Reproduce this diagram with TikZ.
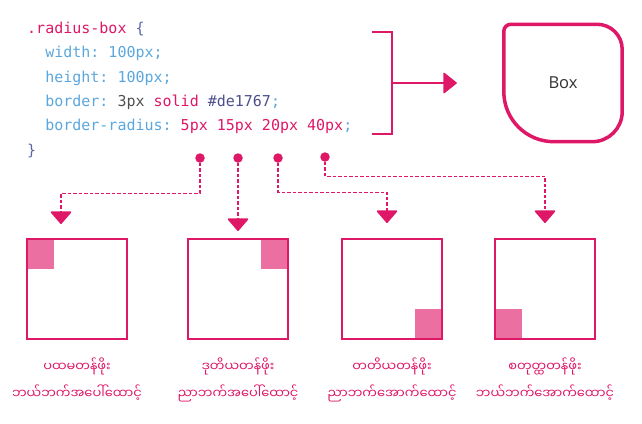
\documentclass[tikz,border=0pt]{standalone}
\usepackage{fontspec}
\setsansfont{Open Sans}
\setmonofont{DejaVu Sans Mono}
\newfontfamily\mmfont[Script=Myanmar]{Noto Sans Myanmar UI}
\usepackage{xcolor}
\usetikzlibrary{arrows.meta,positioning,calc,backgrounds}
\definecolor{rbpink}{HTML}{DE1767}
\definecolor{rbfill}{HTML}{EC6FA1}
\definecolor{cssprop}{HTML}{5AA7DD}
\definecolor{cssbrace}{HTML}{5B68A8}
\definecolor{csshash}{HTML}{4C4F8C}
\definecolor{cssgray}{HTML}{505050}
\tikzset{
  pinkline/.style={draw=rbpink, line width=1.5pt},
  dotline/.style={draw=rbpink, line width=1.6pt, dash pattern=on 3.5pt off 2pt, -{Triangle[width=22pt,length=13pt,round]}},
  code/.style={font=\ttfamily\fontsize{15pt}{24.3pt}\selectfont, align=left, inner sep=0pt},
  rbbox/.style={minimum width=118pt, minimum height=117pt, inner sep=0pt, font=\sffamily\fontsize{16.5pt}{20pt}\selectfont, text=black!80},
  dot/.style={circle, fill=rbpink, inner sep=0pt, minimum size=9.5pt},
  cbox/.style={draw=rbpink, line width=1.5pt, minimum size=100pt, inner sep=0pt, outer sep=0pt},
  lbl/.style={font=\mmfont\fontsize{13pt}{27pt}\selectfont, text=rbpink, align=center, inner sep=0pt}
}

\begin{document}
\begin{tikzpicture}[x=1pt,y=1pt]
  \useasboundingbox (0,0) rectangle (642,-423);
  % css code (base = last line)
  \node[code, anchor=base west] (css) at (27,-155) {%
    \textcolor{rbpink}{.radius-box} \textcolor{cssbrace}{\{}\\
    \phantom{xx}\textcolor{cssprop}{width: 100px;}\\
    \phantom{xx}\textcolor{cssprop}{height: 100px;}\\
    \phantom{xx}\textcolor{cssprop}{border:} \textcolor{cssgray}{3px} \textcolor{rbpink}{solid} \textcolor{csshash}{\#de1767}\textcolor{cssprop}{;}\\
    \phantom{xx}\textcolor{cssprop}{border-radius:} \textcolor{rbpink}{5px 15px 20px 40px}\textcolor{cssprop}{;}\\
    \textcolor{cssbrace}{\}}};

  % bracket and result
  \coordinate (brT) at (372,-32);
  \coordinate (brB) at (372,-134);
  \coordinate (brM) at (392,-83);
  \draw[pinkline] (brT) -| (392,-134) -- (brB);
  \node[rbbox] (bx) at (563,-83) {Box};
  \draw[rbpink, line width=3.5pt] ([xshift=7pt]bx.north west) -- ([xshift=-25pt]bx.north east)
     arc[start angle=90, end angle=0, radius=25pt] -- ([yshift=30pt]bx.south east)
     arc[start angle=0, end angle=-90, radius=30pt] -- ([xshift=50pt]bx.south west)
     arc[start angle=270, end angle=180, radius=50pt] -- ([yshift=-7pt]bx.north west)
     arc[start angle=180, end angle=90, radius=7pt] -- cycle;
  \draw[pinkline, -{Triangle[width=22pt,length=14pt,round]}] (brM) -- ([xshift=-47pt]bx.west);

  % value dots
  \node[dot] (d1) at (200,-158) {};
  \node[dot] (d2) at (238,-158) {};
  \node[dot] (d3) at (278,-158) {};
  \node[dot] (d4) at (325,-157) {};

  % corner boxes
  \node[cbox] (b1) at (77,-289) {};
  \node[cbox] (b2) at (238,-289) {};
  \node[cbox] (b3) at (392,-289) {};
  \node[cbox] (b4) at (545,-289) {};
  \begin{scope}[on background layer]
    \fill[rbfill] (b1.north west) rectangle ++(27,-30); % top left
    \fill[rbfill] (b2.north east) rectangle ++(-27,-30); % top right
    \fill[rbfill] (b3.south east) rectangle ++(-27,30); % bottom right
    \fill[rbfill] (b4.south west) rectangle ++(27,30); % bottom left
  \end{scope}

  % dashed connectors
  \draw[dotline] (d1.south) -- ++(0,-30.5) -| ([xshift=-16pt,yshift=15pt]b1.north);
  \draw[dotline] (d2.south) -- ([yshift=8pt]b2.north);
  \draw[dotline] (d3.south) -- ++(0,-29.5) -| ([xshift=-5pt,yshift=16pt]b3.north);
  \draw[dotline] (d4.south) -- ++(0,-14.5) -| ([yshift=16pt]b4.north);

  % labels
  \node[lbl] (l1) at ([yshift=-40.5pt]b1.south) {ပထမတန်ဖိုး\\ဘယ်ဘက်အပေါ်ထောင့်};
  \node[lbl] (l2) at ([yshift=-40.5pt]b2.south) {ဒုတိယတန်ဖိုး\\ညာဘက်အပေါ်ထောင့်};
  \node[lbl] (l3) at ([yshift=-40.5pt]b3.south) {တတိယတန်ဖိုး\\ညာဘက်အောက်ထောင့်};
  \node[lbl] (l4) at ([yshift=-40.5pt]b4.south) {စတုတ္ထတန်ဖိုး\\ဘယ်ဘက်အောက်ထောင့်};
\end{tikzpicture}
\end{document}
